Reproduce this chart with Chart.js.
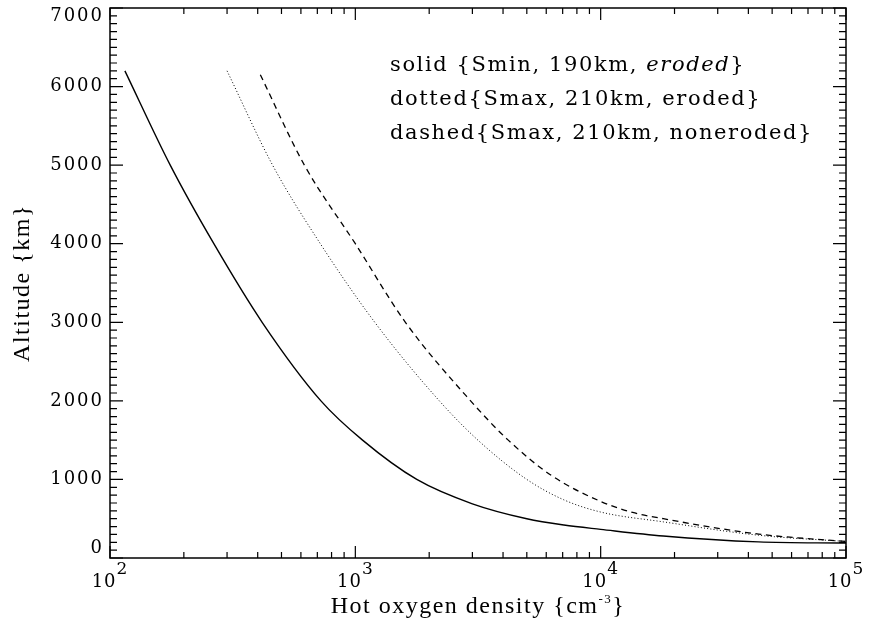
<!DOCTYPE html>
<html>
<head>
<meta charset="utf-8">
<script src="https://cdn.jsdelivr.net/npm/chart.js@4.4.1/dist/chart.umd.min.js"></script>
<style>
  html, body { margin: 0; padding: 0; background: #fff; }
  canvas { display: block; }
</style>
</head>
<body>
<canvas id="profile" width="870" height="626"></canvas>
<script>
// altitude (km) vs hot oxygen density (cm^-3), three model runs
const solidDensity   = [115, 176, 265, 417, 724, 1070, 1780, 3000, 5000, 7080, 10000, 18000, 44000, 100000];
const solidAltitude  = [6200, 5000, 4000, 3000, 2000, 1500, 1000, 690, 500, 420, 365, 280, 205, 190];

const dottedDensity  = [300, 460, 720, 1200, 2200, 3160, 5000, 7080, 10000, 18000, 44000, 100000];
const dottedAltitude = [6200, 5000, 4000, 3000, 2000, 1500, 1000, 740, 585, 460, 290, 210];

const dashedDensity  = [410, 620, 1000, 1600, 2950, 4200, 6300, 10000, 13500, 18000, 44000, 100000];
const dashedAltitude = [6150, 5000, 4000, 3000, 2000, 1500, 1050, 720, 580, 500, 305, 210];

const xDecades = [2, 3, 4, 5];
const yTickValues = [0, 1000, 2000, 3000, 4000, 5000, 6000, 7000];

const xTitle = 'Hot oxygen density {cm';
const xTitleExp = '-3';
const yTitle = 'Altitude {km}';

// each line: [text, italic]
const noteLines = [
  [['solid {Smin, 190km, ', false], ['eroded', true], ['}', false]],
  [['dotted{Smax, 210km, eroded}', false]],
  [['dashed{Smax, 210km, noneroded}', false]],
];

const toPoints = (xs, ys) => xs.map((x, i) => ({ x, y: ys[i] }));

const SERIF = '"DejaVu Serif", "Liberation Serif", serif';
const TITLE = '"Liberation Serif", "DejaVu Serif", serif';

// box frame with inward ticks on all four sides, labels and notes
const frameAndTicks = {
  id: 'frameAndTicks',
  afterDraw(chart) {
    const { ctx, chartArea: a } = chart;
    const xs = chart.scales.x, ys = chart.scales.y;
    ctx.save();
    ctx.strokeStyle = '#000';
    ctx.fillStyle = '#000';
    ctx.lineWidth = 1.5;
    ctx.strokeRect(a.left, a.top, a.right - a.left, a.bottom - a.top);

    ctx.lineWidth = 1.2;
    ctx.beginPath();
    for (let v = 0; v <= 7000; v += 100) {
      const y = ys.getPixelForValue(v);
      const len = v % 1000 === 0 ? 13 : 7;
      ctx.moveTo(a.left, y); ctx.lineTo(a.left + len, y);
      ctx.moveTo(a.right, y); ctx.lineTo(a.right - len, y);
    }
    for (let d = 2; d <= 5; d++) {
      for (let m = 1; m <= 9; m++) {
        const v = m * Math.pow(10, d);
        if (v > 1e5) break;
        const x = xs.getPixelForValue(v);
        const len = m === 1 ? 12 : 6;
        ctx.moveTo(x, a.bottom); ctx.lineTo(x, a.bottom - len);
        ctx.moveTo(x, a.top); ctx.lineTo(x, a.top + len);
      }
    }
    ctx.stroke();

    // y tick labels; the end labels sit inside the frame height
    ctx.font = '18px ' + SERIF;
    ctx.letterSpacing = '2px';
    ctx.textAlign = 'right';
    ctx.textBaseline = 'middle';
    yTickValues.forEach(v => {
      let y = ys.getPixelForValue(v);
      if (v === 7000) y += 8;
      else if (v === 0) y -= 10;
      ctx.fillText(String(v), a.left - 6, y);
    });

    // x tick labels as 10 with raised exponent
    ctx.letterSpacing = '1px';
    ctx.textAlign = 'left';
    ctx.textBaseline = 'alphabetic';
    xDecades.forEach(d => {
      const x = xs.getPixelForValue(Math.pow(10, d));
      ctx.font = '18px ' + SERIF;
      const wBase = ctx.measureText('10').width;
      ctx.font = '17px ' + SERIF;
      const wExp = ctx.measureText(String(d)).width;
      const x0 = x - (wBase + wExp) / 2;
      ctx.font = '18px ' + SERIF;
      ctx.fillText('10', x0, a.bottom + 29);
      ctx.font = '17px ' + SERIF;
      ctx.fillText(String(d), x0 + wBase, a.bottom + 16);
    });

    // axis titles
    ctx.letterSpacing = '1.5px';
    ctx.font = '24px ' + TITLE;
    const wT = ctx.measureText(xTitle).width;
    ctx.font = '13px ' + TITLE;
    const wE = ctx.measureText(xTitleExp).width;
    ctx.font = '24px ' + TITLE;
    const wB = ctx.measureText('}').width;
    const cx = (a.left + a.right) / 2;
    let tx = cx - (wT + wE + wB) / 2;
    ctx.fillText(xTitle, tx, 613);
    ctx.font = '13px ' + TITLE;
    ctx.fillText(xTitleExp, tx + wT, 603);
    ctx.font = '24px ' + TITLE;
    ctx.fillText('}', tx + wT + wE, 613);

    ctx.save();
    ctx.translate(29, (a.top + a.bottom) / 2);
    ctx.rotate(-Math.PI / 2);
    ctx.textAlign = 'center';
    ctx.fillText(yTitle, 0, 0);
    ctx.restore();

    // notes in the upper right
    ctx.letterSpacing = '1.6px';
    ctx.textAlign = 'left';
    noteLines.forEach((parts, i) => {
      let x = 390;
      const y = 71 + i * 34;
      parts.forEach(([t, it]) => {
        ctx.font = (it ? 'italic ' : '') + '21px ' + SERIF;
        ctx.fillText(t, x, y);
        x += ctx.measureText(t).width;
      });
    });
    ctx.restore();
  }
};

const fixedWidth = w => scale => { scale.width = w; };
const fixedHeight = h => scale => { scale.height = h; };

new Chart(document.getElementById('profile'), {
  type: 'scatter',
  data: {
    datasets: [
      {
        label: 'solid',
        data: toPoints(solidDensity, solidAltitude),
        borderColor: '#000',
        borderWidth: 1.4,
      },
      {
        label: 'dotted',
        data: toPoints(dottedDensity, dottedAltitude),
        borderColor: '#000',
        borderWidth: 1,
        borderDash: [1, 2.2],
      },
      {
        label: 'dashed',
        data: toPoints(dashedDensity, dashedAltitude),
        borderColor: '#000',
        borderWidth: 1.3,
        borderDash: [6, 4.5],
      },
    ].map(ds => ({ ...ds, showLine: true, pointRadius: 0, cubicInterpolationMode: 'monotone', fill: false })),
  },
  options: {
    responsive: false,
    animation: false,
    layout: { padding: { top: 8, right: 24, left: 0, bottom: 0 } },
    plugins: { legend: { display: false }, tooltip: { enabled: false } },
    scales: {
      x: {
        type: 'logarithmic',
        min: 100,
        max: 100000,
        grid: { display: false },
        border: { display: false },
        ticks: { display: false },
        afterFit: fixedHeight(68),
      },
      y: {
        min: 0,
        max: 7000,
        grid: { display: false },
        border: { display: false },
        ticks: { display: false },
        afterFit: fixedWidth(110),
      },
    },
  },
  plugins: [frameAndTicks],
});
</script>
</body>
</html>
